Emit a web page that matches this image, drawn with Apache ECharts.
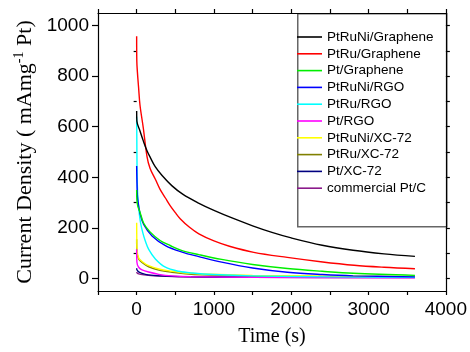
<!DOCTYPE html>
<html><head><meta charset="utf-8">
<script src="https://cdn.jsdelivr.net/npm/echarts@6/dist/echarts.min.js"></script>
<style>html,body{margin:0;padding:0;background:#fff}#c{width:470px;height:352px}</style>
</head><body><div id="c"></div>
<script>
// Series names and colours
const seriesNames = ['PtRuNi/Graphene','PtRu/Graphene','Pt/Graphene','PtRuNi/RGO','PtRu/RGO','Pt/RGO','PtRuNi/XC-72','PtRu/XC-72','Pt/XC-72','commercial Pt/C'];
const seriesColors = ['#000000','#ff0000','#00ee00','#0000ff','#00ffff','#ff00ff','#ffff00','#808000','#000080','#8b1a8b'];

// [time (s), current density (mA mg^-1 Pt)]
const ptRuNiGraphene = [[0,662],[3,622],[43,583],[86,544],[134,505],[177,478],[240,442],[329,407],[458,366],[600,332],[800,298],[1000,269],[1250,237],[1500,208],[1750,182],[2000,160],[2400,131],[2800,111],[3200,97],[3600,87]];
const ptRuGraphene = [[0,958],[2,860],[10,815],[25,755],[43,686],[86,595],[134,482],[173,436],[242,392],[303,352],[372,318],[433,288],[500,260],[563,236],[680,203],[805,176],[1000,148],[1200,127],[1515,103],[1948,83],[2381,66],[2813,52],[3200,44],[3600,38]];
const ptGraphene = [[0,350],[3,310],[15,285],[43,262],[91,218],[173,184],[303,150],[433,130],[588,110],[805,94],[1100,75],[1500,55],[1950,39],[2400,28],[2800,20],[3600,12]];
const ptRuNiRGO = [[0,445],[3,395],[10,325],[21,297],[43,258],[91,213],[199,168],[372,130],[588,104],[805,86],[1100,64],[1500,41],[1950,24],[2400,15],[2800,10],[3600,6]];
const ptRuRGO = [[0,640],[2,560],[5,440],[10,360],[20,300],[47,226],[80,180],[112,148],[156,115],[242,77],[372,44],[545,28],[718,21],[1000,15],[1500,10],[2500,6],[3600,4]];
const ptRGO = [[0,115],[3,65],[26,44],[69,34],[156,25],[286,16],[458,10],[700,7],[1500,4],[3600,2]];
const ptRuNiXC72 = [[0,220],[2,150],[5,112],[26,81],[69,67],[156,50],[286,37],[458,28],[632,21],[850,17],[1500,12],[2500,9],[3600,7]];
const ptRuXC72 = [[0,155],[3,105],[26,77],[69,63],[156,46],[286,33],[458,24],[632,18],[850,14],[1500,10],[2500,7],[3600,5]];
const ptXC72 = [[0,40],[5,33],[26,26],[70,20],[150,14],[300,10],[600,7],[1500,5],[3600,4]];
const commercialPtC = [[0,25],[10,20],[50,16],[150,12],[300,9],[600,6],[1500,4],[3600,3]];
const allSeriesData = [ptRuNiGraphene, ptRuGraphene, ptGraphene, ptRuNiRGO, ptRuRGO, ptRGO, ptRuNiXC72, ptRuXC72, ptXC72, commercialPtC];

// Tick / label values
const xTickValues = [-500,0,500,1000,1500,2000,2500,3000,3500,4000];
const xLabelValues = [0,1000,2000,3000,4000];
const yMajorTicks = [0,200,400,600,800,1000];
const yMinorTicks = [100,300,500,700,900];
const yAllTicks = [0,100,200,300,400,500,600,700,800,900,1000];

const chart = echarts.init(document.getElementById('c'), null, {renderer:'canvas'});
const axisLineStyle = {color:'#000', width:1.2};
const sansFont = 'Liberation Sans';
const serifFont = 'Liberation Serif';
const plain = v => String(v);

const option = {
  animation:false,
  backgroundColor:'#fff',
  grid:{left:98, right:24, top:13, bottom:55.5},
  graphic:[{
    type:'rect', left:297, top:13, z:0,
    shape:{width:149, height:213},
    style:{fill:'#fff', stroke:'#666', lineWidth:1.5}
  }],
  legend:{
    orient:'vertical', left:297, top:30, padding:0,
    icon:'rect', itemWidth:25, itemHeight:1.6, itemGap:2.8,
    textStyle:{fontFamily:sansFont, fontSize:13.5, lineHeight:14, color:'#000'},
    data:seriesNames
  },
  xAxis:[{
    type:'value', min:-500, max:4000, position:'bottom',
    axisLine:{show:true, onZero:false, lineStyle:axisLineStyle},
    axisTick:{show:true, inside:false, length:4, customValues:xTickValues, lineStyle:axisLineStyle},
    axisLabel:{customValues:xLabelValues, formatter:plain, margin:9, fontFamily:sansFont, fontSize:19, color:'#000'},
    splitLine:{show:false},
    name:'Time (s)', nameLocation:'middle', nameGap:36,
    nameTextStyle:{fontFamily:serifFont, fontSize:20, color:'#000'}
  },{
    type:'value', min:-500, max:4000, position:'top',
    axisLine:{show:true, onZero:false, lineStyle:axisLineStyle},
    axisTick:{show:true, inside:false, length:4, customValues:xTickValues, lineStyle:axisLineStyle},
    axisLabel:{show:false}, splitLine:{show:false}
  }],
  yAxis:[{
    type:'value', min:-50, max:1050, position:'left',
    axisLine:{show:true, onZero:false, lineStyle:axisLineStyle},
    axisTick:{show:true, inside:false, length:6, customValues:yMajorTicks, lineStyle:axisLineStyle},
    axisLabel:{customValues:yMajorTicks, formatter:plain, margin:9, fontFamily:sansFont, fontSize:19, color:'#000'},
    splitLine:{show:false},
    name:'{m|Current Density ( mAmg}{s|-1}{m| Pt)}', nameLocation:'middle', nameGap:49,
    nameTextStyle:{
      color:'#000',
      rich:{
        m:{fontFamily:serifFont, fontSize:22, color:'#000'},
        s:{fontFamily:serifFont, fontSize:14, color:'#000', padding:[0,0,12,0]}
      }
    }
  },{
    type:'value', min:-50, max:1050, position:'right',
    axisLine:{show:true, onZero:false, lineStyle:axisLineStyle},
    axisTick:{show:true, inside:false, length:4, customValues:yAllTicks, lineStyle:axisLineStyle},
    axisLabel:{show:false}, splitLine:{show:false}
  },{
    type:'value', min:-50, max:1050, position:'left',
    axisLine:{show:false},
    axisTick:{show:true, inside:false, length:3, customValues:yMinorTicks, lineStyle:axisLineStyle},
    axisLabel:{show:false}, splitLine:{show:false}
  }],
  series: seriesNames.map((n,i)=>({
    name:n, type:'line', xAxisIndex:0, yAxisIndex:0,
    data:allSeriesData[i],
    showSymbol:false, symbol:'none',
    smooth:0.35,
    color:seriesColors[i],
    lineStyle:{color:seriesColors[i], width:1.4},
    z:10-i
  })).reverse()
};
chart.setOption(option);
</script></body></html>
